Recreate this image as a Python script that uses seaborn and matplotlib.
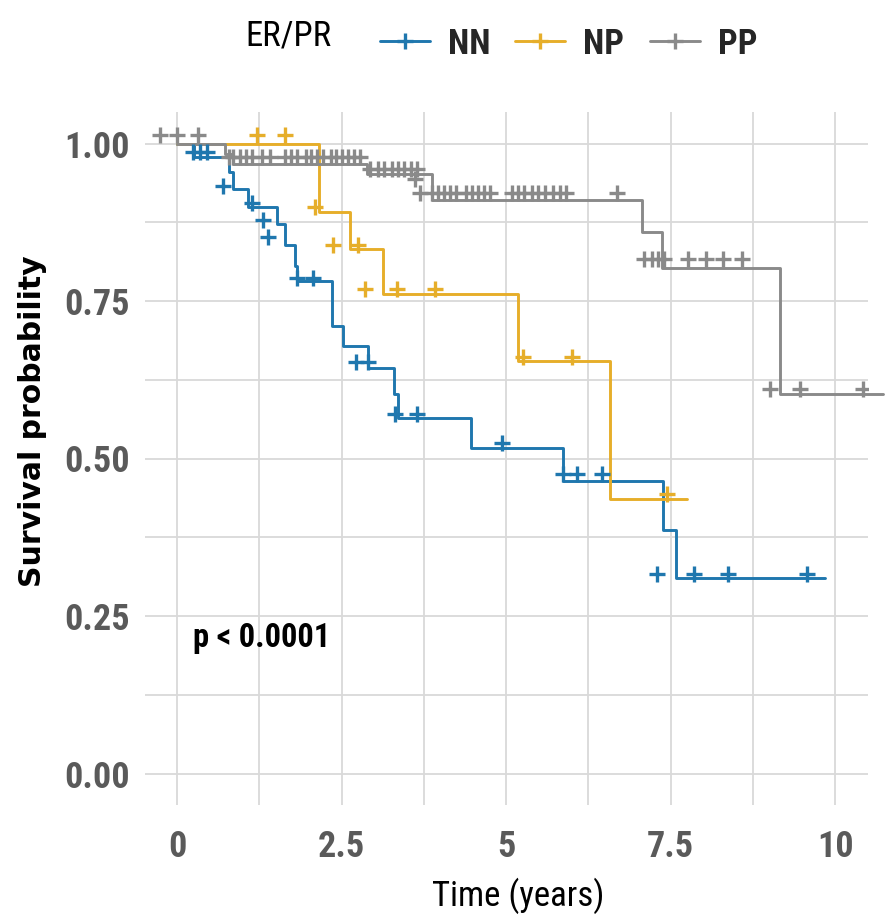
import numpy as np
import pandas as pd
import matplotlib
matplotlib.use("Agg")
import matplotlib.pyplot as plt
import seaborn as sns
from matplotlib import font_manager as fm
from matplotlib.font_manager import FontProperties
from matplotlib.lines import Line2D
from matplotlib.legend import Legend

# ---------------- data ----------------
groups = ["NN", "NP", "PP"]
colors = ["#1F77AE", "#E6AE2A", "#8A8A8A"]

# Kaplan-Meier step curves: event times and survival after each step
nn_t = [0, 0.25, 0.78, 0.85, 1.08, 1.52, 1.64, 1.79, 1.82, 2.35, 2.52, 2.90,
        3.30, 3.36, 4.46, 5.87, 7.39, 7.58, 9.85]
nn_s = [1.0, 0.979, 0.955, 0.928, 0.900, 0.872, 0.839, 0.806, 0.781, 0.711,
        0.679, 0.643, 0.602, 0.564, 0.516, 0.464, 0.386, 0.310, 0.310]

np_t = [0, 2.15, 2.63, 3.13, 5.18, 6.58, 7.75]
np_s = [1.0, 0.892, 0.833, 0.761, 0.655, 0.436, 0.436]

pp_t = [0, 0.72, 0.85, 2.88, 3.87, 7.06, 7.37, 9.16, 10.73]
pp_s = [1.0, 0.984, 0.968, 0.952, 0.911, 0.859, 0.803, 0.602, 0.602]

# censor marks (time, height as drawn)
nn_ct = [0.24, 0.35, 0.46, 0.70, 1.14, 1.31, 1.38, 1.82, 2.07, 2.71, 2.90,
         3.31, 3.65, 4.93, 5.87, 6.08, 6.46, 7.29, 7.85, 8.37, 9.57]
nn_cs = [0.986, 0.986, 0.986, 0.932, 0.906, 0.879, 0.851, 0.787, 0.787,
         0.653, 0.653, 0.571, 0.571, 0.525, 0.475, 0.475, 0.475, 0.317,
         0.317, 0.317, 0.317]

np_ct = [1.22, 1.64, 2.10, 2.37, 2.75, 2.86, 3.34, 3.92, 5.26, 6.00, 7.44]
np_cs = [1.013, 1.013, 0.899, 0.839, 0.839, 0.769, 0.769, 0.769, 0.661,
         0.661, 0.443]

pp_ct = [-0.26, 0.00, 0.32,
         0.78, 0.85, 0.96, 1.05, 1.14, 1.29, 1.41, 1.64, 1.73, 1.82, 1.95,
         2.04, 2.13, 2.22, 2.33, 2.42, 2.51, 2.60, 2.69, 2.78,
         2.93, 3.05, 3.15, 3.27, 3.36, 3.45, 3.56, 3.65,
         3.62,
         3.69, 3.88, 3.97, 4.06, 4.15, 4.24, 4.39, 4.48, 4.57, 4.66, 4.76,
         5.09, 5.18, 5.27, 5.40, 5.49, 5.59, 5.71, 5.82, 5.91, 6.69,
         7.10, 7.22, 7.31, 7.40, 7.77, 8.04, 8.30, 8.59,
         9.01, 9.47, 10.43]
pp_cs = [1.013, 1.013, 1.013] + [0.978] * 20 + [0.960] * 8 + [0.943] + \
        [0.922] * 21 + [0.817] * 8 + [0.611] * 3

x_ticks = [0, 2.5, 5, 7.5, 10]
x_ticklabels = ["0", "2.5", "5", "7.5", "10"]
y_ticks = [0.0, 0.25, 0.50, 0.75, 1.00]
y_ticklabels = ["0.00", "0.25", "0.50", "0.75", "1.00"]
p_text = "p < 0.0001"
legend_title = "ER/PR"

# ---------------- build tables ----------------
curves = pd.concat([
    pd.DataFrame({"t": nn_t, "s": nn_s, "grp": "NN"}),
    pd.DataFrame({"t": np_t, "s": np_s, "grp": "NP"}),
    pd.DataFrame({"t": pp_t, "s": pp_s, "grp": "PP"}),
], ignore_index=True)
cens = pd.concat([
    pd.DataFrame({"t": nn_ct, "s": nn_cs, "grp": "NN"}),
    pd.DataFrame({"t": np_ct, "s": np_cs, "grp": "NP"}),
    pd.DataFrame({"t": pp_ct, "s": pp_cs, "grp": "PP"}),
], ignore_index=True)

# ---------------- fonts ----------------
sns.set_theme(style="white")


def pick_condensed():
    prefs = ["Roboto Condensed", "Liberation Sans Narrow", "Arial Narrow",
             "Open Sans Condensed", "Noto Sans Condensed", "Noto Sans",
             "DejaVu Sans Condensed", "DejaVu Sans", "Roboto", "Open Sans",
             "Lato", "Inter"]
    found = set()
    for f in fm.fontManager.ttflist:
        st = str(f.stretch).lower()
        nm = f.name.lower()
        isc = ("condensed" in st or "narrow" in nm or "condensed" in nm
               or (st.isdigit() and int(st) < 500))
        if isc:
            found.add(f.name)
    for p in prefs:
        if p in found:
            return p
    if found:
        return sorted(found)[0]
    return None


CF = pick_condensed()
if CF is not None:
    FAM = [CF, "DejaVu Sans"]
    STR = "condensed"
    k = 1.0
else:
    FAM = ["Liberation Sans", "DejaVu Sans"]
    STR = "normal"
    k = 0.8
plt.rcParams["font.family"] = FAM


def fp(size, weight="normal"):
    return FontProperties(family=FAM, stretch=STR, weight=weight, size=size)


W, H = 885, 919
fig = plt.figure(figsize=(W / 100, H / 100), dpi=100)
ax = fig.add_axes([145 / W, 1 - 805 / H, (868 - 145) / W, (805 - 112) / H])

pal = dict(zip(groups, colors))
for g in groups:
    sub = curves[curves.grp == g]
    sns.lineplot(data=sub, x="t", y="s", color=pal[g], drawstyle="steps-post",
                 estimator=None, sort=False, linewidth=2.1, ax=ax,
                 legend=False, clip_on=False, zorder=3)
    csub = cens[cens.grp == g]
    sns.scatterplot(data=csub, x="t", y="s", color=pal[g], marker="+",
                    s=130, linewidth=2.4, ax=ax, legend=False, zorder=4)

ax.set_xlim(-0.49, 10.5)
ax.set_ylim(-0.05, 1.05)

# grid (major + minor)
grid_c = "#D9D9D9"
for v in np.arange(0.0, 10.01, 1.25):
    ax.axvline(v, color=grid_c, lw=1.3, zorder=0)
for v in np.arange(0.0, 1.001, 0.125):
    ax.axhline(v, color=grid_c, lw=1.3, zorder=0)
for sp in ax.spines.values():
    sp.set_visible(False)

ax.set_xticks(x_ticks)
ax.set_xticklabels(x_ticklabels)
ax.set_yticks(y_ticks)
ax.set_yticklabels(y_ticklabels)
ax.tick_params(axis="both", which="major", length=5, width=1.6,
               color="#222222", labelcolor="#5A5A5A", direction="out")
ax.tick_params(axis="x", pad=12)
ax.tick_params(axis="y", pad=6)
for lab in ax.get_xticklabels() + ax.get_yticklabels():
    lab.set_fontproperties(fp(26 * k, "bold"))

ax.set_xlabel("Time (years)", fontproperties=fp(25 * k), color="black")
ax.set_ylabel("Survival probability", color="black",
              fontproperties=FontProperties(family=["DejaVu Sans"],
                                            weight="bold",
                                            size=21.5 * (k if k < 1 else 1)))
ax.xaxis.set_label_coords(0.516, -0.104)
ax.yaxis.set_label_coords(-0.136, 0.554)

ax.text(0.24, 0.215, p_text, fontproperties=fp(23.5 * k, "bold"),
        color="black", va="center", ha="left")

# legend: title + one entry per group
fig.text(245 / W, 1 - 36 / H, legend_title, fontproperties=fp(25 * k),
         va="center", ha="left", color="black")
key_x = [380, 515, 650]
for g, kx in zip(groups, key_x):
    h = Line2D([0], [0], color=pal[g], lw=2.1, marker="+",
               markersize=11, mew=2.4)
    lg = Legend(ax, [h], [g], loc="center left",
                bbox_to_anchor=(kx / W, 1 - 44 / H),
                bbox_transform=fig.transFigure, frameon=False,
                handlelength=1.45, handletextpad=0.5, borderpad=0,
                borderaxespad=0, prop=fp(25 * k, "bold"))
    ax.add_artist(lg)

fig.savefig("out.png", dpi=100)
